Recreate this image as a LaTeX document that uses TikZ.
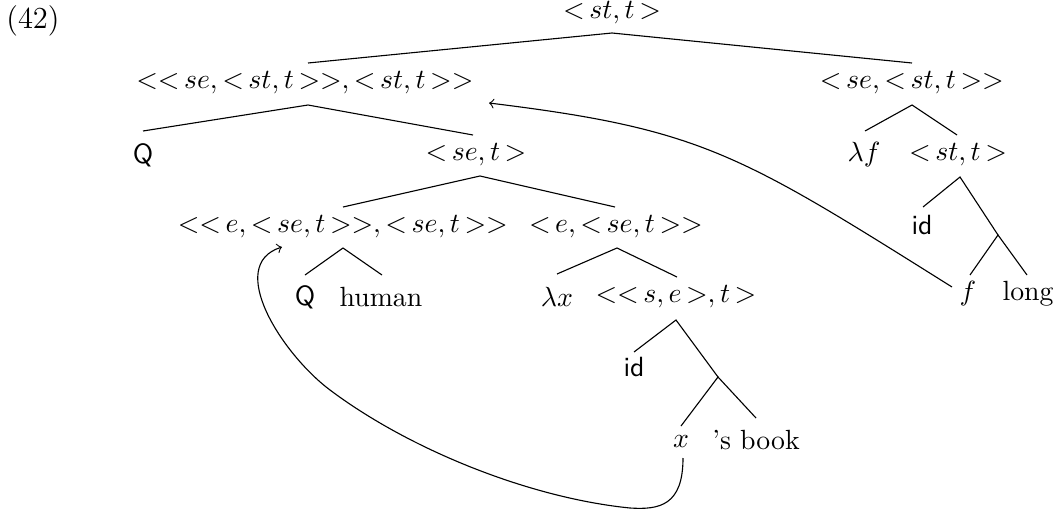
\documentclass[tikz,border=0pt]{standalone}
\thickmuskip=3mu plus 2mu
\begin{document}
\begin{tikzpicture}[x=0.36pt,y=-0.36pt,
  lbl/.style={inner sep=0pt,anchor=center},
  edge/.style={line width=0.4pt},
  mv/.style={->,line width=0.4pt}]
\useasboundingbox (0,0) rectangle (1057,514);
% labels
\node[lbl] (n42) at (33,21) {\fontsize{11}{13}\selectfont (42)};
\node[lbl] (root) at (612,13) {$<st,t>$};
\node[lbl] (A) at (305,83) {$<<se,<st,t>>,<st,t>>$};
\node[lbl] (B) at (912,83) {$<se,<st,t>>$};
\node[lbl] (AQ) at (143,155) {\textsf{Q}};
\node[lbl] (C) at (476,155) {$<se,t>$};
\node[lbl] (Bl) at (864,155) {$\lambda f$};
\node[lbl] (Br) at (958,155) {$<st,t>$};
\node[lbl] (D) at (343,227) {$<<e,<se,t>>,<se,t>>$};
\node[lbl] (E) at (616,227) {$<e,<se,t>>$};
\node[lbl] (DQ) at (305,297) {\textsf{Q}};
\node[lbl] (Dh) at (381,297) {human};
\node[lbl] (El) at (557,297) {$\lambda x$};
\node[lbl] (Er) at (676,297) {$<<s,e>,t>$};
\node[lbl] (Eid) at (634,367) {\textsf{id}};
\node[lbl] (Ex) at (681,442) {$x$};
\node[lbl] (Es) at (756,440) {'s book};
\node[lbl] (Bid) at (922,225) {\textsf{id}};
\node[lbl] (Bf) at (968,294) {$f$};
\node[lbl] (Blong) at (1028,294) {long};
% tree anchor points
\coordinate (rootb) at (612,33);
\coordinate (At) at (308,63);
\coordinate (Ab) at (308,105);
\coordinate (Bt) at (912,63);
\coordinate (Bb) at (912,105);
\coordinate (AQt) at (143,131);
\coordinate (Ct) at (473,135);
\coordinate (Cb) at (480,176);
\coordinate (Blt) at (865,131);
\coordinate (Brt) at (957,135);
\coordinate (Brb) at (960,177);
\coordinate (Dt) at (343,207);
\coordinate (Db) at (343,248);
\coordinate (Et) at (615,207);
\coordinate (Eb) at (617,248);
\coordinate (DQt) at (305,275);
\coordinate (Dht) at (382,275);
\coordinate (Elt) at (557,274);
\coordinate (Ert) at (677,277);
\coordinate (Erb) at (676,320);
\coordinate (Eidt) at (634,352);
\coordinate (Ebr) at (718,377);
\coordinate (Ext) at (681,426);
\coordinate (Est) at (756,418);
\coordinate (Bidt) at (923,207);
\coordinate (Bbr) at (998,235);
\coordinate (Bft) at (970,275);
\coordinate (Blongt) at (1027,275);
% edges
\draw[edge] (At) -- (rootb) -- (Bt);
\draw[edge] (AQt) -- (Ab) -- (Ct);
\draw[edge] (Blt) -- (Bb) -- (Brt);
\draw[edge] (Dt) -- (Cb) -- (Et);
\draw[edge] (DQt) -- (Db) -- (Dht);
\draw[edge] (Elt) -- (Eb) -- (Ert);
\draw[edge] (Eidt) -- (Erb) -- (Ebr);
\draw[edge] (Ext) -- (Ebr) -- (Est);
\draw[edge] (Bidt) -- (Brb) -- (Bbr);
\draw[edge] (Bft) -- (Bbr) -- (Blongt);
% movement arrows
\coordinate (fs) at (952,287);
\coordinate (Aarr) at (489,103);
\draw[mv] (fs) .. controls (740,154) and (702,129) .. (Aarr);
\coordinate (xs) at (683,458);
\coordinate (Darr) at (282,247);
\draw[mv] (xs) .. controls (683,505) and (660,510) .. (630,508)
  .. controls (530,498) and (410,450) .. (330,390)
  .. controls (282,354) and (225,265) .. (Darr);
\end{tikzpicture}
\end{document}
